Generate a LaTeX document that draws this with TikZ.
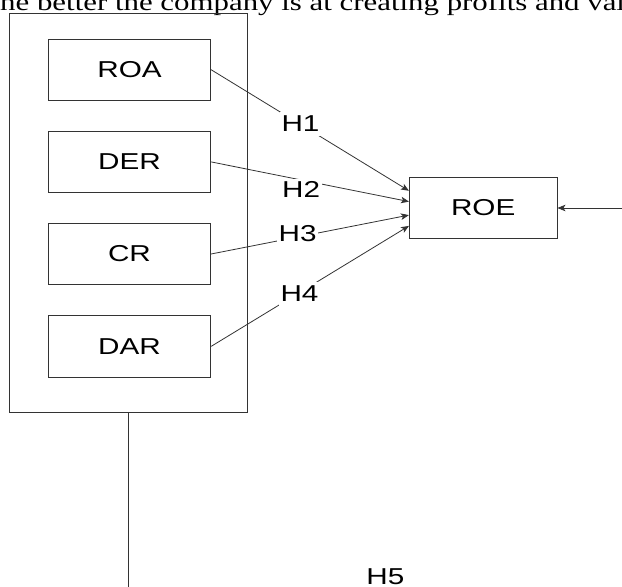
\documentclass[tikz,border=0pt]{standalone}
\usepackage{fontspec}
\newfontfamily\topfont[FakeStretch=1.286]{Liberation Serif}
\newfontfamily\labfont[FakeStretch=1.29]{Liberation Sans}
\usetikzlibrary{arrows.meta,calc}
\tikzset{
  linecol/.style={draw=black!80, line width=0.8pt},
  grpbox/.style={linecol, minimum width=238pt, minimum height=399.4pt, inner sep=0pt},
  varbox/.style={linecol, minimum width=162.4pt, minimum height=61.5pt, inner sep=0pt,
    font=\labfont\fontsize{23}{27}\selectfont},
  lab/.style={fill=white, inner xsep=1.5pt, inner ysep=0pt, text height=19pt, text depth=5pt,
    font=\labfont\fontsize{23}{27}\selectfont},
  conn/.style={linecol},
  arr/.style={linecol, -{Stealth[length=8pt,width=6.5pt,inset=2pt]}},
}
\begin{document}
\begin{tikzpicture}[x=1pt,y=-1pt]
\useasboundingbox (0,0) rectangle (622,587);
\clip (0,0) rectangle (622,587);
\fill[white] (0,0) rectangle (622,587);
% top text
\node[anchor=base west, inner sep=0pt, font=\topfont\fontsize{24}{28}\selectfont] (toptext) at (0,10) {he better the company is at creating profits and val};
% group box
\node[grpbox] (grp) at (128.3,213) {};
% variable boxes
\node[varbox] (roa) at (129.5,69.7) {ROA};
\node[varbox] (der) at (129.5,161.9) {DER};
\node[varbox] (cr) at (129.5,254) {CR};
\node[varbox] (dar) at (129.5,346.4) {DAR};
\node[varbox, minimum width=147.7pt, minimum height=61.4pt] (roe) at (483.2,208) {ROE};
% connectors
\draw[arr] (roa.east) -- node[lab, pos=0.452] (h1) {H1} ($(roe.north west)!0.223!(roe.south west)$);
\draw[arr] (der.east) -- node[lab, pos=0.455, yshift=-11pt] (h2) {H2} ($(roe.north west)!0.397!(roe.south west)$);
\draw[arr] (cr.east) -- node[lab, pos=0.437, yshift=2.5pt] (h3) {H3} ($(roe.north west)!0.614!(roe.south west)$);
\draw[arr] (dar.east) -- node[lab, pos=0.447, yshift=-1.5pt] (h4) {H4} ($(roe.north west)!0.788!(roe.south west)$);
% incoming from right
\coordinate (rin) at (632,208);
\draw[arr] (rin) -- (roe.east);
% vertical line down
\coordinate (vb) at (128.3,600);
\draw[conn] (grp.south) -- (vb);
% H5
\node[lab, fill=none, anchor=base] (h5) at (385.3,584) {H5};
\end{tikzpicture}
\end{document}
